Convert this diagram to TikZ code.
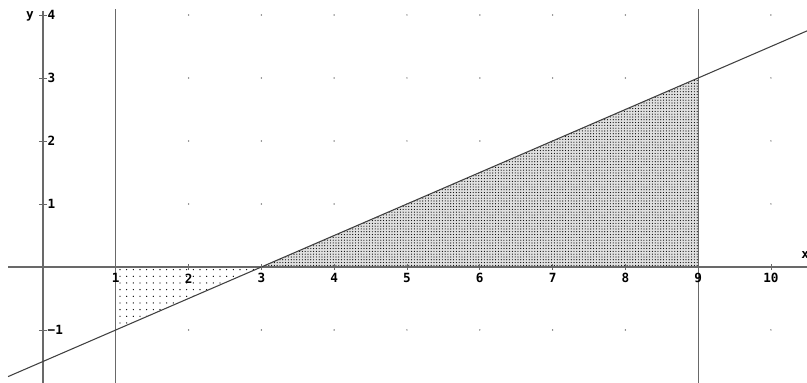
\documentclass[tikz,border=0pt]{standalone}
\usepackage{fontspec}
\setmonofont{DejaVu Sans Mono}
\usetikzlibrary{patterns.meta}
\definecolor{AxisGray}{RGB}{105,105,105}
\definecolor{DotGray}{RGB}{80,80,80}

\begin{document}
\begin{tikzpicture}[x=54.6pt,y=47.25pt,font=\ttfamily\bfseries\fontsize{9.5}{11}\selectfont]
\useasboundingbox (-0.5907,-1.841) rectangle (10.495,4.238);
\foreach \x in {2,...,8,10}{\foreach \y in {-1,1,2,3,4}{\fill[DotGray] (\x,\y) circle (0.55pt);}}
\fill[white] (1,0)--(3,0)--(1,-1)--cycle;\fill[pattern={Dots[distance=5pt,radius=0.5pt]}] (1,0)--(3,0)--(1,-1)--cycle;
\fill[black!12] (3,0)--(9,0)--(9,3)--cycle;\fill[pattern={Dots[distance=2.1pt,radius=0.45pt]}] (3,0)--(9,0)--(9,3)--cycle;
\draw[AxisGray,line width=.8pt] (-0.48,0)--(10.495,0);\draw[AxisGray,line width=.8pt] (0,4.07)--(0,-1.841);
\draw[AxisGray,line width=1pt] (1,4.09)--(1,-1.841);\draw[AxisGray,line width=1pt] (9,4.09)--(9,-1.841);
\draw[black!75,line width=.8pt] (-0.48,-1.74)--(10.495,3.7475);
\foreach \x in {1,...,10}{\draw[AxisGray,line width=.6pt] (\x,-0.05)--(\x,0.05);\node (xl\x) at (\x,-0.18) {\x};}
\foreach \y/\t in {-1/−1,1/1,2/2,3/3,4/4}{\draw[AxisGray,line width=.6pt] (-0.055,\y)--(0.055,\y);\node[anchor=west,inner sep=0pt] (yl\y) at (0.06,\y) {\t};}
\node (ylab) at (-0.18,3.98) {y};\node (xlab) at (10.47,0.19) {x};
\end{tikzpicture}
\end{document}
